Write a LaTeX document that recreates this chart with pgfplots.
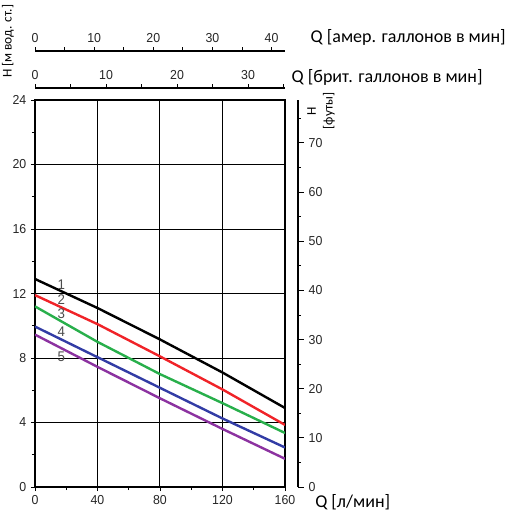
\documentclass[border=0pt]{standalone}
\usepackage{pgfplots}
\pgfplotsset{compat=1.18}
\usepackage{fontspec}
\setmainfont{Carlito}
\newfontfamily\tickfont[FakeStretch=0.95]{Liberation Sans}
\definecolor{cred}{RGB}{240,35,40}
\definecolor{cgreen}{RGB}{40,175,75}
\definecolor{cblue}{RGB}{50,60,165}
\definecolor{cpurple}{RGB}{140,50,160}
\begin{document}
\begin{tikzpicture}
\useasboundingbox (0,0) rectangle (382.5pt,384pt);
\pgfplotsset{
  common/.style={
    scale only axis,
    tick align=outside,
    axis line style={black, line width=0.9pt},
    tick style={black, line width=0.7pt},
    major tick length=3pt, minor tick length=3pt,
    ticklabel style={font=\tickfont\fontsize{9.75}{10}\selectfont, text=black!85},
    /pgf/number format/assume math mode=true,
  }
}
% main axis
\begin{axis}[common,
  at={(26.25pt,18.75pt)}, anchor=south west,
  width=187.5pt, height=290.25pt,
  xmin=0, xmax=160, ymin=0, ymax=24,
  xtick={0,40,...,160}, ytick={0,4,...,24},
  minor xtick={20,60,100,140}, minor ytick={2,6,...,22},
  xtick pos=left, ytick pos=left,
  minor tick length=2.25pt,
  grid=major, major grid style={black, line width=0.75pt},
  minor grid style={draw=none},
]
\addplot[black, line width=1.8pt] coordinates {(0,12.9) (40,11.1) (80,9.15) (120,7.1) (160,4.9)};
\addplot[cred, line width=1.8pt] coordinates {(0,11.9) (40,10.1) (80,8.1) (120,6.05) (160,3.85)};
\addplot[cgreen, line width=1.8pt] coordinates {(0,11.2) (40,9.0) (80,7.0) (120,5.2) (160,3.35)};
\addplot[cblue, line width=1.8pt] coordinates {(0,9.95) (40,8.05) (80,6.15) (120,4.25) (160,2.45)};
\addplot[cpurple, line width=1.8pt] coordinates {(0,9.45) (40,7.45) (80,5.5) (120,3.6) (160,1.75)};
\begin{scope}[every node/.style={font=\tickfont\fontsize{10.5}{11}\selectfont, text=black!70, inner sep=0pt}]
\node at (axis cs:16.8,12.55) {1};
\node at (axis cs:16.8,11.65) {2};
\node at (axis cs:16.8,10.75) {3};
\node at (axis cs:16.8,9.65) {4};
\node at (axis cs:16.8,8.1) {5};
\end{scope}
\end{axis}
% US gallons
\begin{axis}[common,
  at={(26.25pt,345.75pt)}, anchor=north west,
  width=187.5pt, height=1pt,
  xmin=0, xmax=42.268, ymin=0, ymax=1,
  axis x line*=top, axis y line=none,
  xtick={0,10,...,40}, minor xtick={5,15,25,35},
]
\end{axis}
% UK gallons
\begin{axis}[common,
  at={(26.25pt,318pt)}, anchor=north west,
  width=187.5pt, height=1pt,
  xmin=0, xmax=35.195, ymin=0, ymax=1,
  axis x line*=top, axis y line=none,
  xtick={0,10,...,30}, minor xtick={5,15,25,35},
]
\end{axis}
% feet
\begin{axis}[common,
  at={(223.5pt,18.75pt)}, anchor=south east,
  width=1pt, height=290.25pt,
  xmin=0, xmax=1, ymin=0, ymax=78.74,
  axis y line*=right, axis x line=none,
  ytick={0,10,...,70}, minor ytick={5,15,...,75},
  major tick length=4.5pt, minor tick length=2pt,
]
\end{axis}
\node[anchor=west, font=\fontsize{13.5}{15}\selectfont] at (229.5pt,356.25pt) {Q [амер. галлонов в мин]};
\node[anchor=west, font=\fontsize{13.5}{15}\selectfont] at (215.25pt,326.25pt) {Q [брит. галлонов в мин]};
\node[anchor=base west, font=\fontsize{13.5}{15}\selectfont, inner sep=0pt] at (236.25pt,3.75pt) {Q [л/мин]};
\node[rotate=90, font=\fontsize{10}{12}\selectfont, inner sep=0pt] at (6pt,353pt) {H [м вод. ст.]};
\node[rotate=90, align=center, font=\fontsize{10}{12.5}\selectfont, inner sep=0pt] at (240.75pt,300.75pt) {H\\{[футы]}};
\end{tikzpicture}
\end{document}
